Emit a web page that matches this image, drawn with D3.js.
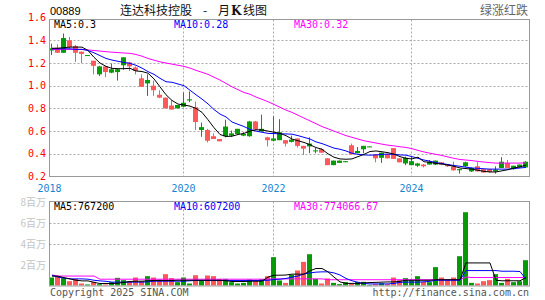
<!DOCTYPE html>
<html><head><meta charset="utf-8">
<script src="https://cdn.jsdelivr.net/npm/d3@7"></script>
<style>body{margin:0;background:#fff}svg{display:block}</style>
</head><body>
<svg id="c" width="545" height="300"></svg>
<script>
// ---- data (monthly candles, index = month with trading) ----
const open  = [1.31,1.335,1.29,1.40,1.35,1.30,1.265,1.22,1.10,1.17, 1.115,1.12,1.18,1.205,1.16,1.065,1.02,1.00,0.92,0.895, 0.825,0.80,0.815,0.87,0.81,0.61,0.61,0.555,0.53,0.555, 0.56,0.575,0.56,0.555,0.685,0.597,0.545,0.515,0.52,0.52, 0.505,0.535,0.47,0.465,0.425,0.44,0.36,0.30,0.32,0.33, 0.475,0.405,0.44,0.46,0.395,0.365,0.40,0.45,0.36,0.315, 0.30,0.295,0.305,0.305,0.305,0.325,0.31,0.29,0.255,0.29, 0.245,0.29,0.265,0.265,0.245,0.275,0.32,0.265,0.28,0.28];
const high  = [1.37,1.365,1.46,1.43,1.36,1.30,1.27,1.22,1.175,1.175, 1.195,1.15,1.25,1.21,1.17,1.10,1.10,1.045,0.96,0.895, 0.87,0.83,0.94,0.95,0.86,0.675,0.62,0.58,0.53,0.70, 0.605,0.62,0.59,0.69,0.69,0.745,0.55,0.73,0.705,0.52, 0.56,0.535,0.47,0.545,0.455,0.45,0.36,0.34,0.34,0.335, 0.49,0.46,0.47,0.465,0.395,0.41,0.40,0.45,0.36,0.375, 0.375,0.32,0.31,0.345,0.34,0.325,0.31,0.33,0.265,0.33, 0.28,0.325,0.265,0.265,0.29,0.37,0.345,0.295,0.305,0.335];
const low   = [1.27,1.29,1.29,1.33,1.21,1.20,1.265,1.10,1.085,1.075, 1.11,1.045,1.14,1.13,1.10,0.99,0.91,0.91,0.89,0.80, 0.79,0.80,0.81,0.855,0.61,0.55,0.50,0.53,0.51,0.545, 0.55,0.575,0.555,0.55,0.61,0.597,0.465,0.51,0.52,0.465, 0.50,0.455,0.39,0.405,0.405,0.41,0.30,0.30,0.32,0.325, 0.395,0.405,0.405,0.46,0.325,0.32,0.36,0.355,0.325,0.30, 0.30,0.285,0.28,0.305,0.30,0.30,0.285,0.25,0.225,0.285, 0.24,0.245,0.235,0.235,0.225,0.275,0.275,0.26,0.28,0.28];
const close = [1.33,1.29,1.42,1.34,1.29,1.28,1.27,1.175,1.17,1.12, 1.145,1.145,1.25,1.17,1.13,0.99,1.05,0.96,0.895,0.80, 0.79,0.83,0.85,0.88,0.68,0.635,0.515,0.53,0.51,0.64, 0.58,0.62,0.575,0.685,0.615,0.62,0.52,0.535,0.59,0.49, 0.525,0.47,0.445,0.49,0.43,0.41,0.30,0.34,0.34,0.335, 0.395,0.425,0.47,0.465,0.36,0.41,0.36,0.355,0.325,0.365, 0.335,0.315,0.29,0.33,0.34,0.305,0.29,0.255,0.265,0.325, 0.275,0.245,0.235,0.24,0.26,0.33,0.275,0.295,0.305,0.33];
const ma5   = [1.33,1.33,1.335,1.34,1.34,1.34,1.31,1.25,1.2,1.17, 1.153,1.15,1.15,1.153,1.13,1.125,1.11,1.06,0.99,0.92, 0.87,0.838,0.83,0.82,0.8,0.765,0.7,0.63,0.57,0.553, 0.555,0.57,0.58,0.6,0.612,0.61,0.6,0.59,0.58,0.56, 0.53,0.515,0.5,0.48,0.455,0.44,0.4,0.37,0.355,0.352, 0.355,0.375,0.395,0.42,0.425,0.418,0.41,0.397,0.375,0.36, 0.355,0.37,0.33,0.325,0.315,0.31,0.3,0.29,0.275,0.27, 0.265,0.255,0.245,0.24,0.24,0.25,0.26,0.275,0.285,0.3];
const ma10  = [1.325,1.325,1.325,1.325,1.32,1.32,1.31,1.29,1.265,1.24, 1.226,1.215,1.205,1.197,1.18,1.155,1.124,1.1,1.065,1.035, 1.03,1.015,1.0,0.96,0.92,0.882,0.84,0.79,0.75,0.725, 0.68,0.66,0.64,0.615,0.6,0.59,0.58,0.578,0.576,0.575, 0.573,0.56,0.545,0.53,0.505,0.49,0.47,0.45,0.44,0.425, 0.405,0.395,0.39,0.388,0.39,0.395,0.397,0.395,0.39,0.388, 0.375,0.36,0.345,0.335,0.322,0.315,0.305,0.297,0.29,0.282, 0.275,0.272,0.268,0.265,0.265,0.265,0.265,0.27,0.275,0.28];
const ma30  = [1.32,1.32,1.32,1.32,1.32,1.32,1.315,1.31,1.305,1.3, 1.295,1.292,1.288,1.285,1.275,1.26,1.24,1.225,1.21,1.2, 1.19,1.18,1.17,1.155,1.135,1.118,1.1,1.075,1.05,1.02, 0.99,0.965,0.94,0.925,0.9,0.88,0.859,0.835,0.81,0.785, 0.765,0.74,0.715,0.69,0.665,0.64,0.62,0.6,0.58,0.56, 0.545,0.53,0.515,0.505,0.495,0.485,0.476,0.47,0.462,0.456, 0.445,0.43,0.416,0.405,0.395,0.385,0.372,0.36,0.35,0.345, 0.34,0.333,0.327,0.322,0.318,0.318,0.318,0.318,0.318,0.32];
// volume in millions of shares
const volume = [0.76,0.89,0.70,0.41,0.63,0.19,0.10,0.35,0.13,0.10, 0.32,0.73,0.51,0.41,0.76,0.41,0.89,0.76,0.57,1.08, 0.70,0.32,0.76,0.19,0.98,0.44,0.95,0.89,0.60,0.63, 0.32,0.19,0.25,0.57,0.44,0.60,0.89,2.70,0.48,0.25, 1.02,1.43,2.25,2.98,0.63,0.19,0.67,0.25,0.13,0.32, 0.19,0.35,0.35,0.06,0.13,0.22,0.13,0.76,0.51,0.70, 0.51,0.89,0.35,0.32,1.75,0.76,0.51,0.76,2.79,6.98, 0.25,0.19,0.41,0.51,1.08,0.25,0.63,0.32,0.41,2.41];
const volMa5  = [0.89,0.89,0.75,0.63,0.5,0.44,0.44,0.3,0.19,0.19, 0.19,0.22,0.3,0.38,0.41,0.41,0.45,0.48,0.48,0.48, 0.48,0.5,0.5,0.5,0.5,0.5,0.5,0.5,0.5,0.45, 0.38,0.38,0.38,0.41,0.41,0.41,0.8,0.98,0.98,1.0, 1.08,1.08,1.08,1.4,1.62,1.62,1.3,0.8,0.34,0.2, 0.2,0.2,0.25,0.28,0.3,0.32,0.34,0.34,0.4,0.5, 0.5,0.5,0.5,0.5,0.55,0.55,0.55,0.55,0.55,2.15, 2.15,2.15,2.15,2.15,0.5,0.45,0.45,0.45,0.45,0.77];
const volMa10 = [0.98,0.8,0.7,0.63,0.63,0.63,0.6,0.5,0.44,0.4, 0.32,0.32,0.32,0.32,0.32,0.32,0.35,0.41,0.41,0.41, 0.41,0.41,0.41,0.45,0.48,0.48,0.48,0.48,0.48,0.48, 0.48,0.48,0.48,0.48,0.48,0.48,0.5,0.57,0.6,0.67, 0.8,0.9,1.1,1.2,1.27,1.3,1.3,1.2,1.0,0.67, 0.45,0.3,0.2,0.15,0.15,0.15,0.15,0.2,0.3,0.32, 0.32,0.32,0.35,0.4,0.5,0.5,0.5,0.5,0.5,1.42, 1.42,1.42,1.42,1.42,1.42,1.36,1.36,1.36,1.33,0.61];
const volMa30 = [1.0,0.9,0.9,0.9,0.9,0.9,0.9,0.9,0.6,0.6, 0.6,0.6,0.6,0.6,0.6,0.6,0.6,0.6,0.6,0.6, 0.6,0.6,0.6,0.6,0.6,0.6,0.6,0.6,0.6,0.6, 0.6,0.6,0.6,0.6,0.6,0.6,0.6,0.63,0.63,0.63, 0.63,0.63,0.63,0.63,0.63,0.63,0.55,0.55,0.55,0.55, 0.55,0.55,0.55,0.55,0.55,0.55,0.55,0.55,0.55,0.55, 0.55,0.55,0.55,0.55,0.55,0.55,0.55,0.55,0.55,0.8, 0.76,0.76,0.76,0.76,0.76,0.76,0.76,0.76,0.76,0.77];
const yearLabels = ["2018","2020","2022","2024"];
const yearIndex  = [0,22,37,60];
const priceTicks = [0.2,0.4,0.6,0.8,1.0,1.2,1.4,1.6];
const volTicks   = [2,4,6,8];
const volTickUnit = "百万";
const priceMaLabels = ["MA5:0.3","MA10:0.28","MA30:0.32"];
const volMaLabels   = ["MA5:767200","MA10:607200","MA30:774066.67"];
const code = "00889";
const titleParts = ["连达科技控股", "-", "月", "K", "线图"];
const legendNote = "绿涨红跌";
const footLeft = "Copyright 2025 SINA.COM";
const footRight = "http://finance.sina.com.cn";

// ---- drawing ----
const svg = d3.select("#c");
const L = 49.5, R = 529.5;
const UP = "#079a07", DOWN = "#ff5858";
const maColors = ["#000000","#0000ff","#ff00ff"];
const mono = "'DejaVu Sans Mono', monospace";
const cjk = "'Noto Sans CJK SC', sans-serif";
const idx = d3.range(close.length);
const x = d3.scaleBand().domain(idx).range([49, 529]).padding(0);
const cx = i => x(i) + x.bandwidth()/2;
const y = d3.scaleLinear().domain([0.2, 1.6]).range([176.5, 17.6]);
const vy = d3.scaleLinear().domain([0, 8]).range([285.5, 201.5]);
const gridX = i => i === 0 ? L : Math.round(cx(i)) - 0.5;

// header
svg.append("text").attr("x", 50).attr("y", 15).attr("font-family", "'Liberation Sans', sans-serif")
  .attr("font-size", 11).attr("fill", "#000").text(code);
const tt = svg.append("text").attr("y", 14.5).attr("font-family", cjk).attr("font-size", 12).attr("fill", "#111");
const titleX = [120, 203, 218, 231, 243];
titleParts.forEach((p, k) => tt.append("tspan").attr("x", titleX[k])
  .attr("font-weight", p === "K" ? "bold" : "normal")
  .attr("font-family", p === "K" ? "'DejaVu Serif', serif" : cjk).text(p));
svg.append("text").attr("x", 528).attr("y", 14.5).attr("text-anchor", "end")
  .attr("font-family", cjk).attr("font-size", 12).attr("fill", "#666").text(legendNote);

// clip paths
const defs = svg.append("defs");
defs.append("clipPath").attr("id", "cpMain").append("rect").attr("x", 50).attr("y", 20).attr("width", 479).attr("height", 156);
defs.append("clipPath").attr("id", "cpVol").append("rect").attr("x", 50).attr("y", 202).attr("width", 479).attr("height", 84);

// ===== main panel =====
const gm = svg.append("g");
gm.selectAll("line.hg").data(priceTicks.filter(v => v > 0.2 && v < 1.6)).enter().append("line")
  .attr("x1", L).attr("x2", R).attr("y1", d => Math.round(y(d)) + 0.5).attr("y2", d => Math.round(y(d)) + 0.5)
  .attr("stroke", "#aaa").attr("stroke-dasharray", "2,2");
gm.selectAll("line.vg").data(yearIndex.slice(1)).enter().append("line")
  .attr("x1", gridX).attr("x2", gridX).attr("y1", 19.5).attr("y2", 176.5)
  .attr("stroke", "#aaa").attr("stroke-dasharray", "2,2");
gm.selectAll("text.yl").data(priceTicks).enter().append("text")
  .attr("x", 46).attr("y", d => y(d) + 3.5).attr("text-anchor", "end")
  .attr("font-family", mono).attr("font-size", 10).attr("fill", "#f00").text(d => d.toFixed(1));
const cg = gm.append("g").attr("clip-path", "url(#cpMain)");
const col = i => close[i] >= open[i] ? UP : DOWN;
cg.selectAll("line.wick").data(idx).enter().append("line")
  .attr("x1", i => Math.round(cx(i)) - 0.5).attr("x2", i => Math.round(cx(i)) - 0.5)
  .attr("y1", i => y(high[i])).attr("y2", i => y(low[i])).attr("stroke", col).attr("stroke-width", 1);
cg.selectAll("rect.body").data(idx).enter().append("rect")
  .attr("x", i => Math.round(cx(i)) - 3).attr("width", 5)
  .attr("y", i => y(Math.max(open[i], close[i])))
  .attr("height", i => Math.max(1, Math.abs(y(open[i]) - y(close[i]))))
  .attr("fill", col);
[[ma30, 2], [ma10, 1], [ma5, 0]].forEach(([arr, c]) => {
  cg.append("path").datum(idx)
    .attr("d", d3.line().x(i => cx(i)).y(i => y(arr[i])))
    .attr("fill", "none").attr("stroke", maColors[c]).attr("stroke-width", 1);
});
gm.append("rect").attr("x", L).attr("y", 19.5).attr("width", R - L).attr("height", 157)
  .attr("fill", "none").attr("stroke", "#999");
const maX = [54, 174, 294];
priceMaLabels.forEach((t, k) => gm.append("text").attr("x", maX[k]).attr("y", 27.5)
  .attr("font-family", mono).attr("font-size", 10).attr("fill", maColors[k]).text(t));

// year labels
svg.selectAll("text.yr").data(yearIndex).enter().append("text")
  .attr("x", d => gridX(d)).attr("y", 192).attr("text-anchor", "middle")
  .attr("font-family", mono).attr("font-size", 10).attr("fill", "#1784d0")
  .text((d, k) => yearLabels[k]);

// ===== volume panel =====
const gv = svg.append("g");
gv.selectAll("line.vhg").data(volTicks.filter(v => v >= 4 && v < 8)).enter().append("line")
  .attr("x1", L).attr("x2", R).attr("y1", d => Math.round(vy(d)) + 0.5).attr("y2", d => Math.round(vy(d)) + 0.5)
  .attr("stroke", "#aaa").attr("stroke-dasharray", "2,2");
gv.selectAll("line.vvg").data(yearIndex.slice(1)).enter().append("line")
  .attr("x1", gridX).attr("x2", gridX).attr("y1", 201.5).attr("y2", 285.5)
  .attr("stroke", "#aaa").attr("stroke-dasharray", "2,2");
gv.selectAll("text.vl").data(volTicks).enter().append("text")
  .attr("x", 46).attr("y", d => vy(d) + 4).attr("text-anchor", "end")
  .attr("font-family", cjk).attr("font-size", 10).attr("fill", "#c4c4c4")
  .text(d => d + volTickUnit);
const vg = gv.append("g").attr("clip-path", "url(#cpVol)");
vg.selectAll("rect.vb").data(idx).enter().append("rect")
  .attr("x", i => Math.round(cx(i)) - 3).attr("width", 5)
  .attr("y", i => vy(volume[i])).attr("height", i => vy(0) - vy(volume[i]))
  .attr("fill", col);
[[volMa30, 2], [volMa10, 1], [volMa5, 0]].forEach(([arr, c]) => {
  vg.append("path").datum(idx)
    .attr("d", d3.line().x(i => cx(i)).y(i => vy(arr[i])))
    .attr("fill", "none").attr("stroke", maColors[c]).attr("stroke-width", 1);
});
gv.append("rect").attr("x", L).attr("y", 201.5).attr("width", R - L).attr("height", 84.5)
  .attr("fill", "none").attr("stroke", "#999");
volMaLabels.forEach((t, k) => gv.append("text").attr("x", maX[k]).attr("y", 209.5)
  .attr("font-family", mono).attr("font-size", 10).attr("fill", maColors[k]).text(t));

// footer
svg.append("text").attr("x", 50).attr("y", 296).attr("font-family", mono).attr("font-size", 10)
  .attr("fill", "#555").text(footLeft);
svg.append("text").attr("x", 529).attr("y", 296).attr("text-anchor", "end").attr("font-family", mono)
  .attr("font-size", 10).attr("fill", "#555").text(footRight);
</script>
</body></html>
